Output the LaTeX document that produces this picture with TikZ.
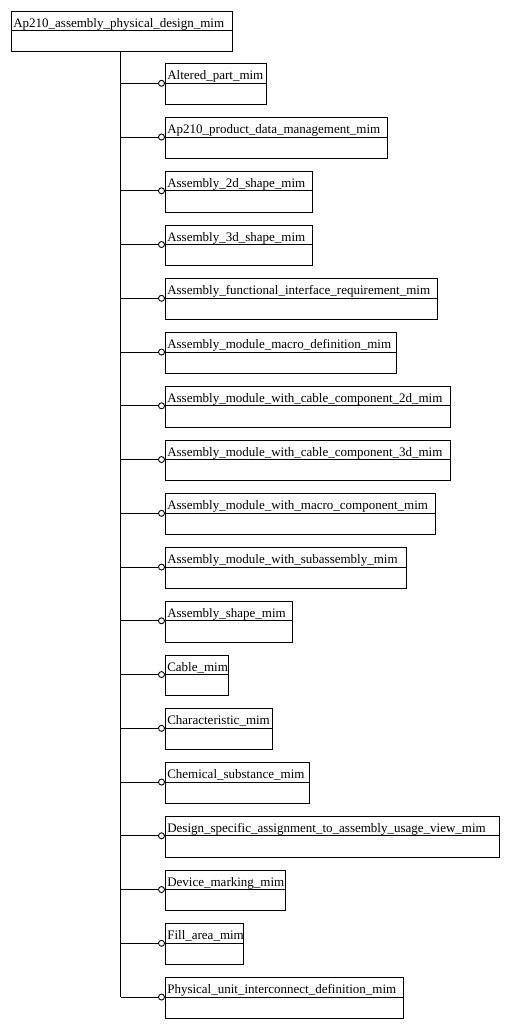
\documentclass[tikz,border=0pt]{standalone}
\usepackage{fontspec}
\setmainfont{Liberation Serif}
\usetikzlibrary{calc}
\begin{document}
\begin{tikzpicture}[x=1pt,y=-1pt,line width=1pt,
  entbox/.style={draw=black,rectangle,inner sep=0pt,anchor=north west,minimum height=40.7pt},
  entlbl/.style={inner sep=0pt,anchor=base west,font=\fontsize{13}{14}\selectfont},
  trunk/.style={draw=black},
  branch/.style={draw=black},
  ring/.style={draw=black,fill=white,line width=0.9pt}]
\useasboundingbox (0,0) rectangle (508,1027);
% root
\node[entbox,minimum width=221pt] (top) at (10.5,10.7) {};
\draw ($(top.north west)+(0,20)$) -- ($(top.north east)+(0,20)$);
\node[entlbl] (toplbl) at ($(top.north west)+(2.3,16.6)$) {Ap210\_assembly\_physical\_design\_mim};
% children
\foreach \i/\r/\t in {
 1/266.3/Altered\_part\_mim,
 2/386.7/Ap210\_product\_data\_management\_mim,
 3/311.7/Assembly\_2d\_shape\_mim,
 4/311.7/Assembly\_3d\_shape\_mim,
 5/436.7/Assembly\_functional\_interface\_requirement\_mim,
 6/395.7/Assembly\_module\_macro\_definition\_mim,
 7/450.3/Assembly\_module\_with\_cable\_component\_2d\_mim,
 8/450.3/Assembly\_module\_with\_cable\_component\_3d\_mim,
 9/434.5/Assembly\_module\_with\_macro\_component\_mim,
 10/405.7/Assembly\_module\_with\_subassembly\_mim,
 11/291.7/Assembly\_shape\_mim,
 12/228.3/Cable\_mim,
 13/271.7/Characteristic\_mim,
 14/308.7/Chemical\_substance\_mim,
 15/499/Design\_specific\_assignment\_to\_assembly\_usage\_view\_mim,
 16/284.7/Device\_marking\_mim,
 17/243.3/Fill\_area\_mim,
 18/403.3/Physical\_unit\_interconnect\_definition\_mim}{
  \pgfmathsetmacro{\yy}{63.3+53.75*(\i-1)}
  \pgfmathsetmacro{\ww}{\r-164.5}
  \node[entbox,minimum width=\ww pt] (c\i) at (164.5,\yy) {};
  \coordinate (d\i) at ($(c\i.north west)+(0,20)$);
  \draw (d\i) -- ($(c\i.north east)+(0,20)$);
  \node[entlbl] (l\i) at ($(c\i.north west)+(2.3,16.6)$) {\t};
  \coordinate (t\i) at (120.7,\yy+20);
  \draw[branch] (t\i) -- ($(d\i)+(-6,0)$);
  \draw[ring] ($(d\i)+(-3,0)$) circle (3pt);
}
\draw[trunk] (top.south -| t1) -- (t18);
\end{tikzpicture}
\end{document}
